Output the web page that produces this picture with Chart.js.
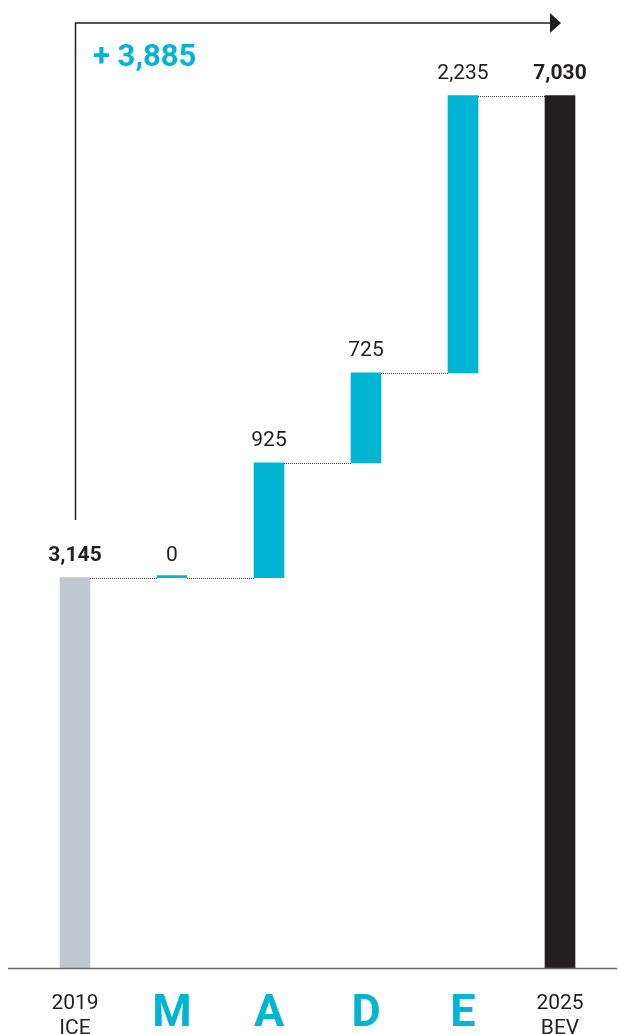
<!DOCTYPE html>
<html>
<head>
<meta charset="utf-8">
<script src="https://cdn.jsdelivr.net/npm/chart.js@4/dist/chart.umd.min.js"></script>
<style>
  html, body { margin: 0; padding: 0; background: #fff; }
  #wrap { width: 618px; height: 1034px; position: relative; }
</style>
</head>
<body>
<div id="wrap"><canvas id="waterfall"></canvas></div>
<script>
// Waterfall: 2019 ICE -> M, A, D, E steps -> 2025 BEV
const categories = [['2019', 'ICE'], 'M', 'A', 'D', 'E', ['2025', 'BEV']];
const startValue = 3145;
const steps = [0, 925, 725, 2235];
const endValue = 7030;

const CYAN = '#00b5d3';
const GREY = '#c0c7cf';
const INK = '#231f20';
const FONT = 'Roboto, "Liberation Sans", sans-serif';

// floating ranges for each bar
let running = startValue;
const ranges = [[0, startValue]];
steps.forEach(s => { ranges.push([running, running + s]); running += s; });
ranges.push([0, endValue]);

const valueLabels = [startValue, ...steps, endValue].map(v => v.toLocaleString('en-US'));
const totalLabel = '+ ' + (endValue - startValue).toLocaleString('en-US');
const barColors = [GREY, CYAN, CYAN, CYAN, CYAN, INK];

const waterfallDecor = {
  id: 'waterfallDecor',
  afterDatasetsDraw(chart) {
    const { ctx } = chart;
    const x = chart.scales.x, y = chart.scales.y;
    const bars = chart.getDatasetMeta(0).data;
    ctx.save();

    // dotted connectors between neighbouring bars
    ctx.strokeStyle = '#444';
    ctx.lineWidth = 1;
    ctx.setLineDash([1, 1]);
    for (let i = 0; i < bars.length - 1; i++) {
      const level = Math.max(ranges[i][0], ranges[i][1]);
      const py = Math.round(y.getPixelForValue(level)) + 0.5;
      ctx.beginPath();
      ctx.moveTo(bars[i].x + bars[i].width / 2, py);
      ctx.lineTo(bars[i + 1].x - bars[i + 1].width / 2, py);
      ctx.stroke();
    }
    ctx.setLineDash([]);

    // value labels above bars
    ctx.textAlign = 'center';
    ctx.textBaseline = 'alphabetic';
    ctx.fillStyle = INK;
    valueLabels.forEach((txt, i) => {
      const top = y.getPixelForValue(Math.max(ranges[i][0], ranges[i][1]));
      const bold = i === 0 || i === valueLabels.length - 1;
      ctx.font = (bold ? 'bold ' : '') + '21px ' + FONT;
      ctx.fillText(txt, bars[i].x, top - 17);
    });

    // baseline
    ctx.strokeStyle = '#666';
    ctx.lineWidth = 1.5;
    ctx.beginPath();
    ctx.moveTo(8, 968.5);
    ctx.lineTo(617, 968.5);
    ctx.stroke();

    // category labels
    categories.forEach((c, i) => {
      const cx = x.getPixelForValue(i);
      if (Array.isArray(c)) {
        ctx.font = '21px ' + FONT;
        ctx.fillStyle = INK;
        ctx.fillText(c[0], cx, 1009);
        ctx.fillText(c[1], cx, 1034);
      } else {
        ctx.font = 'bold 45px ' + FONT;
        ctx.fillStyle = CYAN;
        ctx.fillText(c, cx, 1026);
      }
    });

    // total change arrow
    const x0 = Math.round(bars[0].x) + 0.5;
    const xEnd = bars[bars.length - 1].x;
    const ay = 23;
    ctx.strokeStyle = INK;
    ctx.lineWidth = 1.5;
    ctx.beginPath();
    ctx.moveTo(x0, 520);
    ctx.lineTo(x0, ay);
    ctx.lineTo(xEnd - 8, ay);
    ctx.stroke();
    ctx.fillStyle = INK;
    ctx.beginPath();
    ctx.moveTo(xEnd + 1, ay);
    ctx.lineTo(xEnd - 10, ay - 10);
    ctx.lineTo(xEnd - 10, ay + 10);
    ctx.closePath();
    ctx.fill();

    ctx.font = 'bold 31px ' + FONT;
    ctx.fillStyle = CYAN;
    ctx.textAlign = 'left';
    ctx.fillText(totalLabel, 93, 66);

    ctx.restore();
  }
};

new Chart(document.getElementById('waterfall'), {
  type: 'bar',
  data: {
    labels: categories,
    datasets: [{
      data: ranges,
      backgroundColor: barColors,
      borderWidth: 0,
      barThickness: 30,
      minBarLength: 2
    }]
  },
  options: {
    responsive: true,
    maintainAspectRatio: false,
    animation: false,
    layout: { padding: { left: 26.5, right: 9.5, top: 0, bottom: 66 } },
    plugins: { legend: { display: false }, tooltip: { enabled: false } },
    scales: {
      x: { display: false },
      y: { display: false, min: 0, max: 7800 }
    }
  },
  plugins: [waterfallDecor]
});
</script>
</body>
</html>
